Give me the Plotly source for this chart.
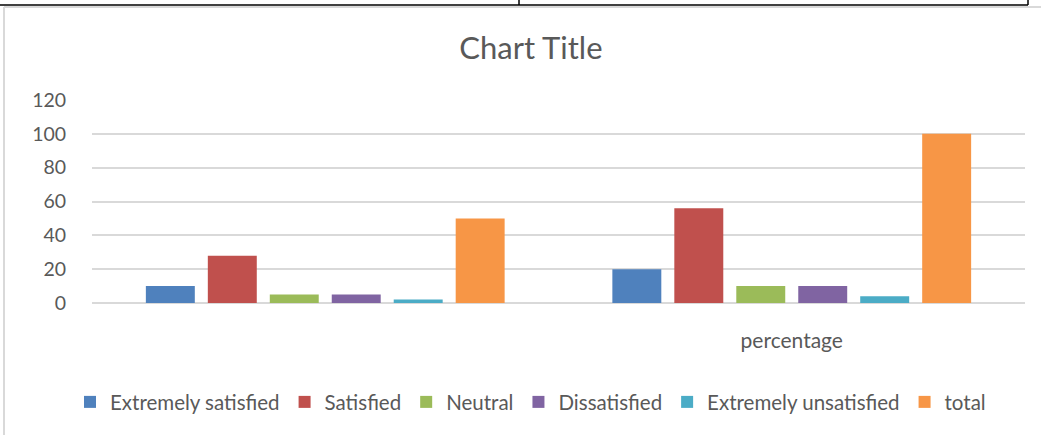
import plotly.graph_objects as go

categories = ["", "percentage"]
series_names = ["Extremely satisfied", "Satisfied", "Neutral", "Dissatisfied",
                "Extremely unsatisfied", "total"]
extremely_satisfied = [10, 20]
satisfied = [28, 56]
neutral = [5, 10]
dissatisfied = [5, 10]
extremely_unsatisfied = [2, 4]
total = [50, 100]
y_ticks = [0, 20, 40, 60, 80, 100, 120]

colors = ["#4F81BD", "#C0504D", "#9BBB59", "#8064A2", "#4BACC6", "#F79646"]
values = [extremely_satisfied, satisfied, neutral, dissatisfied, extremely_unsatisfied, total]

FONT = "Lato"
TXT = "#595959"

fig = go.Figure()
xpos = list(range(len(categories)))
for name, vals, col in zip(series_names, values, colors):
    fig.add_trace(go.Bar(x=xpos, y=vals, name=name, marker=dict(color=col, line=dict(width=0))))

fig.update_layout(
    width=1041, height=435,
    margin=dict(l=92, r=16, t=100, b=132),
    paper_bgcolor="white", plot_bgcolor="white",
    barmode="group", bargap=0.203, bargroupgap=0.21,
    font=dict(family=FONT, color=TXT, size=20),
    title=dict(text="Chart Title", x=0.51, xanchor="center", y=0.89, yanchor="middle",
               font=dict(family=FONT, size=31, color=TXT)),
    showlegend=True,
    legend=dict(orientation="h", x=0.47, xanchor="center", y=-0.488, yanchor="middle",
                font=dict(family=FONT, size=20.5, color=TXT), itemwidth=30,
                traceorder="normal"),
    xaxis=dict(tickmode="array", tickvals=xpos, ticktext=categories,
               range=[-0.5, 1.5], showgrid=False, zeroline=False, showline=False,
               ticks="outside", ticklen=19, tickcolor="rgba(0,0,0,0)",
               tickfont=dict(family=FONT, size=21, color=TXT)),
    yaxis=dict(range=[0, 120], tickvals=y_ticks, showgrid=True, gridcolor="#D9D9D9",
               gridwidth=1.5, zeroline=True, zerolinecolor="#D9D9D9", zerolinewidth=1.5,
               showline=False, ticks="outside", ticklen=21, tickcolor="rgba(0,0,0,0)",
               tickfont=dict(family=FONT, size=19.5, color=TXT)),
)

# chart frame and surrounding table lines
fig.add_shape(type="line", xref="paper", yref="paper", x0=-88/933, x1=-88/933,
              y0=(303-7)/203, y1=(303-435)/203, line=dict(color="#D9D9D9", width=2))
fig.add_shape(type="line", xref="paper", yref="paper", x0=-88/933, x1=1.02,
              y0=(303-7)/203, y1=(303-7)/203, line=dict(color="#D9D9D9", width=2))
fig.add_shape(type="line", xref="paper", yref="paper", x0=-92/933, x1=(1028-92)/933,
              y0=(303-5)/203, y1=(303-5)/203, line=dict(color="black", width=1.5))
for xv in [519, 1028]:
    fig.add_shape(type="line", xref="paper", yref="paper", x0=(xv-92)/933, x1=(xv-92)/933,
                  y0=(303-5)/203, y1=(303+2)/203, line=dict(color="black", width=1.5))

fig.write_html("out.html")
